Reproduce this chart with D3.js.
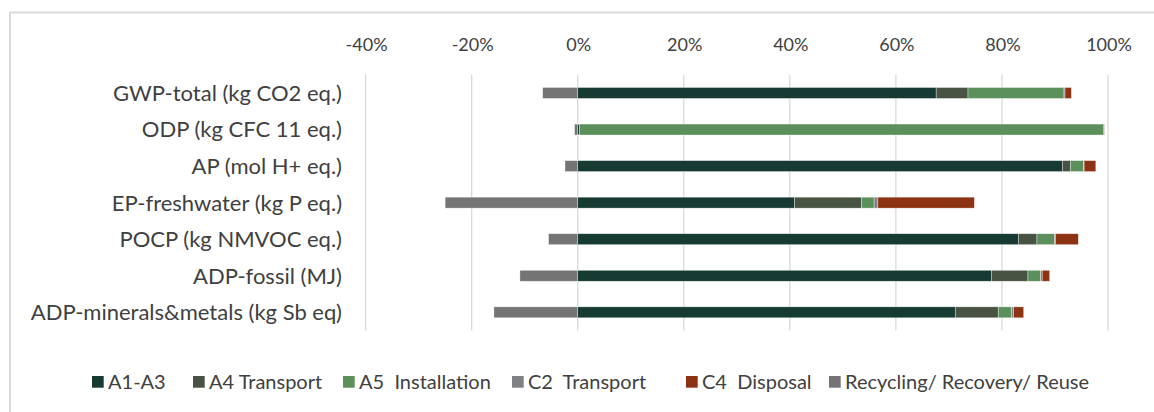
<!DOCTYPE html>
<html>
<head>
<meta charset="utf-8">
<script src="https://cdn.jsdelivr.net/npm/d3@7"></script>
<style>
  body { margin: 0; background: #fff; }
  svg { display: block; font-family: Lato, "Open Sans", sans-serif; }
</style>
</head>
<body>
<script>
// impact categories, top to bottom
var categories = ['GWP-total (kg CO2 eq.)', 'ODP (kg CFC 11 eq.)', 'AP (mol H+ eq.)',
    'EP-freshwater (kg P eq.)', 'POCP (kg NMVOC eq.)', 'ADP-fossil (MJ)', 'ADP-minerals&metals (kg Sb eq)'];

var seriesNames = ['A1-A3', 'A4 Transport', 'A5  Installation', 'C2  Transport', 'C4  Disposal', 'Recycling/ Recovery/ Reuse'];
var seriesColors = ['#173b33', '#485343', '#5b8f5c', '#808184', '#8d3212', '#747474'];

// shares in %, one array per series (same order as categories)
var a1a3 = [67.6, 0.3, 91.4, 40.9, 83.1, 78.0, 71.2];
var a4 = [6.0, 0, 1.5, 12.6, 3.5, 6.9, 8.1];
var a5 = [18.1, 98.9, 2.5, 2.4, 3.3, 2.4, 2.5];
var c2 = [0.2, 0, 0.1, 0.7, 0.2, 0.3, 0.4];
var c4 = [1.2, 0.1, 2.2, 18.2, 4.3, 1.4, 1.9];
var recycling = [-6.6, -0.6, -2.4, -25.0, -5.5, -10.9, -15.8];

var tickValues = [-40, -20, 0, 20, 40, 60, 80, 100];

var allSeries = [a1a3, a4, a5, c2, c4, recycling];

var W = 1154, H = 412;
var svg = d3.select('body').append('svg').attr('width', W).attr('height', H);

// chart frame (top and left edge only visible)
svg.append('line').attr('x1', 9).attr('x2', W).attr('y1', 12.5).attr('y2', 12.5)
    .attr('stroke', '#d9d9d9').attr('stroke-width', 2);
svg.append('line').attr('x1', 10).attr('x2', 10).attr('y1', 12).attr('y2', H)
    .attr('stroke', '#d9d9d9').attr('stroke-width', 2);

var x = d3.scaleLinear().domain([-40, 100]).range([365.6, 1108]);
var y = d3.scaleBand().domain(categories).range([74.7, 330.6]).paddingInner(0.7).paddingOuter(0.35);

// gridlines
svg.append('g').selectAll('line').data(tickValues).enter().append('line')
    .attr('x1', function (d) { return x(d); })
    .attr('x2', function (d) { return x(d); })
    .attr('y1', 74.7).attr('y2', 330.6)
    .attr('stroke', '#d9d9d9').attr('stroke-width', 1.3);

// top axis labels
svg.append('g').selectAll('text').data(tickValues).enter().append('text')
    .attr('x', function (d) { return x(d) + 1; })
    .attr('y', 50.5)
    .attr('text-anchor', 'middle')
    .attr('font-size', 18)
    .attr('fill', '#404040')
    .text(function (d) { return d + '%'; });

// category labels
svg.append('g').selectAll('text').data(categories).enter().append('text')
    .attr('x', 342)
    .attr('y', function (d) { return y(d) + y.bandwidth() / 2; })
    .attr('dy', '0.36em')
    .attr('text-anchor', 'end')
    .attr('font-size', 22)
    .attr('fill', '#404040')
    .text(function (d) { return d; });

// stack bars: positives to the right from 0, negatives to the left
var segs = [];
categories.forEach(function (c, i) {
    var pos = 0, neg = 0;
    allSeries.forEach(function (s, k) {
        var v = s[i];
        if (v >= 0) {
            segs.push({ cat: c, k: k, x0: pos, x1: pos + v });
            pos += v;
        } else {
            segs.push({ cat: c, k: k, x0: neg + v, x1: neg });
            neg += v;
        }
    });
});

svg.append('g').selectAll('rect').data(segs.filter(function (d) { return d.x1 > d.x0; }))
    .enter().append('rect')
    .attr('x', function (d) { return x(d.x0); })
    .attr('width', function (d) { return x(d.x1) - x(d.x0); })
    .attr('y', function (d) { return y(d.cat); })
    .attr('height', y.bandwidth())
    .attr('fill', function (d) { return seriesColors[d.k]; })
    .attr('stroke', '#ffffff')
    .attr('stroke-opacity', 0.6)
    .attr('stroke-width', 0.6);

// legend
var legendX = [92, 193, 343, 512, 686, 829];
var legend = svg.append('g').selectAll('g').data(seriesNames).enter().append('g')
    .attr('transform', function (d, i) { return 'translate(' + legendX[i] + ',376)'; });
legend.append('rect').attr('width', 11.7).attr('height', 11.7)
    .attr('fill', function (d, i) { return seriesColors[i]; });
legend.append('text')
    .attr('x', 16).attr('y', 6).attr('dy', '0.36em')
    .attr('font-size', 20)
    .attr('fill', '#404040')
    .style('white-space', 'pre')
    .text(function (d) { return d; });
</script>
</body>
</html>
